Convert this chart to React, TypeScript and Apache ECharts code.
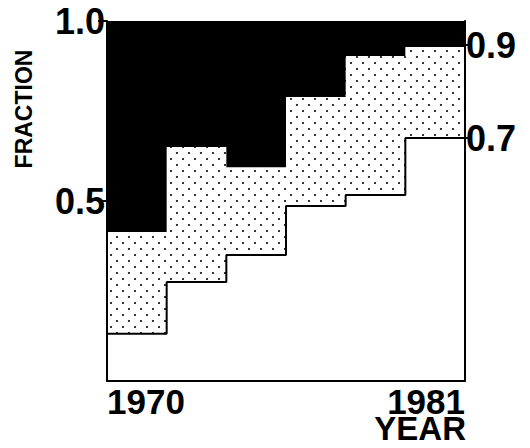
import React, { useEffect, useRef } from "react";
import * as echarts from "echarts";

// Step intervals (six equal steps spanning 1970–1981)
const stepIndex = [0, 1, 2, 3, 4, 5];
// Upper boundary (dotted / black)
const upperValues = [0.414, 0.65, 0.594, 0.789, 0.903, 0.928];
// Lower boundary (white / dotted)
const lowerValues = [0.131, 0.275, 0.35, 0.486, 0.517, 0.675];
// Axis labels
const xLabels = ["1970", "1981"];
const xTitle = "YEAR";
const yTitle = "FRACTION";
const leftTicks = [0.5, 1.0];
const leftTickLabels = ["0.5", "1.0"];
const rightTicks = [0.675, 0.933];
const rightTickLabels = ["0.7", "0.9"];

const FONT = "'Liberation Sans', Arial, Helvetica, sans-serif";

function stepData(values: number[]): number[][] {
  const pts = stepIndex.map((i) => [i, values[i]]);
  // close the last step at the right edge
  pts.push([stepIndex.length, values[values.length - 1]]);
  return pts;
}

const dotSvg =
  "<svg xmlns='http://www.w3.org/2000/svg' width='12' height='12'>" +
  "<rect width='12' height='12' fill='white'/>" +
  "<circle cx='3' cy='3' r='1.05' fill='black'/>" +
  "<circle cx='9' cy='9' r='1.05' fill='black'/>" +
  "</svg>";
const dotUrl = "data:image/svg+xml;charset=utf-8," + encodeURIComponent(dotSvg);

export default function App() {
  const ref = useRef<HTMLDivElement>(null);
  useEffect(() => {
    if (!ref.current) return;
    const chart = echarts.init(ref.current, null, { renderer: "svg" });
    const labelStyle = {
      color: "#000",
      fontFamily: FONT,
      fontWeight: "bold" as const,
      fontSize: 36,
    };
    chart.setOption({
      animation: false,
      grid: {
        left: 107,
        right: 65,
        top: 21,
        bottom: 67,
        show: true,
        backgroundColor: "#000",
        borderWidth: 0,
        containLabel: false,
        outerBoundsMode: "none",
      },
      xAxis: {
        type: "value",
        min: 0,
        max: stepIndex.length,
        z: 10,
        axisLine: { show: true, onZero: false, lineStyle: { color: "#000", width: 2 } },
        axisTick: { show: false },
        splitLine: { show: false },
        axisLabel: {
          ...labelStyle,
          fontSize: 35,
          lineHeight: 28,
          margin: 6,
          customValues: [0, stepIndex.length],
          alignMinLabel: "left",
          alignMaxLabel: "right",
          formatter: (v: number) => (v === 0 ? xLabels[0] : xLabels[1]),
        },
      },
      yAxis: [
        {
          type: "value",
          min: 0,
          max: 1,
          position: "left",
          z: 10,
          axisLine: { show: true, lineStyle: { color: "#000", width: 2 } },
          axisTick: {
            show: true,
            length: 9,
            customValues: leftTicks,
            lineStyle: { color: "#000", width: 2 },
          },
          splitLine: { show: false },
          axisLabel: {
            ...labelStyle,
            margin: 2,
            customValues: leftTicks,
            formatter: (v: number) => leftTickLabels[leftTicks.indexOf(v)] ?? "",
          },
        },
        {
          type: "value",
          min: 0,
          max: 1,
          position: "right",
          z: 10,
          axisLine: { show: true, lineStyle: { color: "#000", width: 2 } },
          axisTick: {
            show: true,
            length: 7,
            customValues: rightTicks,
            lineStyle: { color: "#000", width: 2 },
          },
          splitLine: { show: false },
          axisLabel: {
            ...labelStyle,
            margin: 1,
            customValues: rightTicks,
            formatter: (v: number) => rightTickLabels[rightTicks.indexOf(v)] ?? "",
          },
        },
      ],
      series: [
        {
          name: "upper",
          type: "line",
          step: "end",
          z: 2,
          symbol: "none",
          data: stepData(upperValues),
          lineStyle: { width: 0, opacity: 0 },
          areaStyle: {
            opacity: 1,
            color: {
              image: dotUrl,
              repeat: "repeat",
              imageWidth: 12,
              imageHeight: 12,
            },
          },
        },
        {
          name: "lower",
          type: "line",
          step: "end",
          z: 3,
          symbol: "none",
          data: stepData(lowerValues),
          lineStyle: { width: 2, color: "#000" },
          areaStyle: { opacity: 1, color: "#fff" },
        },
      ],
      graphic: [
        {
          type: "text",
          x: 24,
          y: 109,
          rotation: Math.PI / 2,
          style: {
            text: yTitle,
            fill: "#000",
            font: `bold 23px ${FONT}`,
            align: "center",
            verticalAlign: "middle",
          },
        },
        {
          type: "text",
          x: 466,
          y: 428.5,
          style: {
            text: xTitle,
            fill: "#000",
            font: `bold 33px ${FONT}`,
            align: "right",
            verticalAlign: "middle",
          },
        },
      ],
    });
    return () => chart.dispose();
  }, []);
  return <div ref={ref} style={{ width: 530, height: 448, position: "absolute", left: 0, top: 0 }} />;
}
